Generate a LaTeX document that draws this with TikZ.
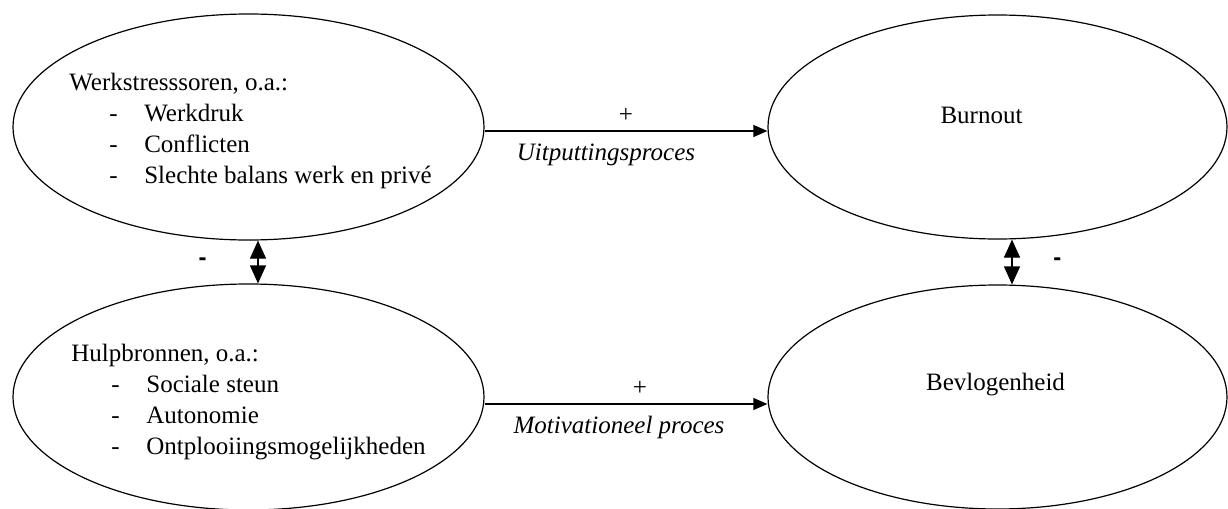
\documentclass[tikz,border=0pt]{standalone}
\usepackage{fontspec}
\setmainfont{Liberation Serif}
\newfontfamily\signfont{Liberation Sans}
\usetikzlibrary{shapes.geometric, arrows.meta}
\newcommand{\listitem}[1]{\\\hspace*{20pt}\makebox[17.5pt][l]{-}#1}

\begin{document}
\begin{tikzpicture}[
    x=0.5pt, y=-0.5pt,
    factor/.style={ellipse, draw, line width=0.6pt, minimum width=235.5pt, minimum height=113pt, inner sep=0pt},
    outcome/.style={ellipse, draw, line width=0.6pt, minimum width=229.5pt, minimum height=112pt, inner sep=0pt},
    listtext/.style={align=left, inner sep=0pt, font=\fontsize{12.5}{15.5}\selectfont},
    arrow/.style={-{Triangle[length=7pt, width=6pt]}, line width=0.6pt},
    dblarrow/.style={{Triangle[length=9pt, width=8pt]}-{Triangle[length=9pt, width=8pt]}, line width=0.6pt},
    sign/.style={font=\signfont\bfseries\fontsize{12}{14}\selectfont}
]
\useasboundingbox (0,0) rectangle (1228,509);

% Nodes
\node[factor] (stress) at (248.5,127) {};
\node[listtext] (stresstext) at ([xshift=1pt, yshift=-1.75pt]stress.center) {Werkstresssoren, o.a.:\listitem{Werkdruk}\listitem{Conflicten}\listitem{Slechte balans werk en privé}};

\node[factor] (help) at (248.5,397) {};
\node[listtext] (helptext) at ([xshift=0pt, yshift=-2.5pt]help.center) {Hulpbronnen, o.a.:\listitem{Sociale steun}\listitem{Autonomie}\listitem{Ontplooiingsmogelijkheden}};

\node[outcome] (burnout) at (997.5,127) {};
\node[listtext] (burnouttext) at ([xshift=-8pt, yshift=6pt]burnout.center) {Burnout};

\node[outcome] (engage) at (997.5,397) {};
\node[listtext] (engagetext) at ([xshift=-1pt, yshift=6pt]engage.center) {Bevlogenheid};

% Arrows
\draw[arrow] ([yshift=-2pt]stress.east) -- node[above, listtext, yshift=4pt] {+} node[below, listtext, xshift=-10pt, yshift=-6pt] {\itshape Uitputtingsproces} ([yshift=-2pt]burnout.west);
\draw[arrow] ([yshift=-3.5pt]help.east) -- node[above, listtext, xshift=7pt, yshift=4pt] {+} node[below, listtext, xshift=-3.5pt, yshift=-6pt] {\itshape Motivationeel proces} ([yshift=-3.5pt]engage.west);

\draw[dblarrow] ([xshift=4.75pt]stress.south) -- node[sign, left=22pt] {-} ([xshift=4.75pt]help.north);
\draw[dblarrow] ([xshift=7.25pt]burnout.south) -- node[sign, right=17pt] {-} ([xshift=7.25pt]engage.north);

\end{tikzpicture}
\end{document}
